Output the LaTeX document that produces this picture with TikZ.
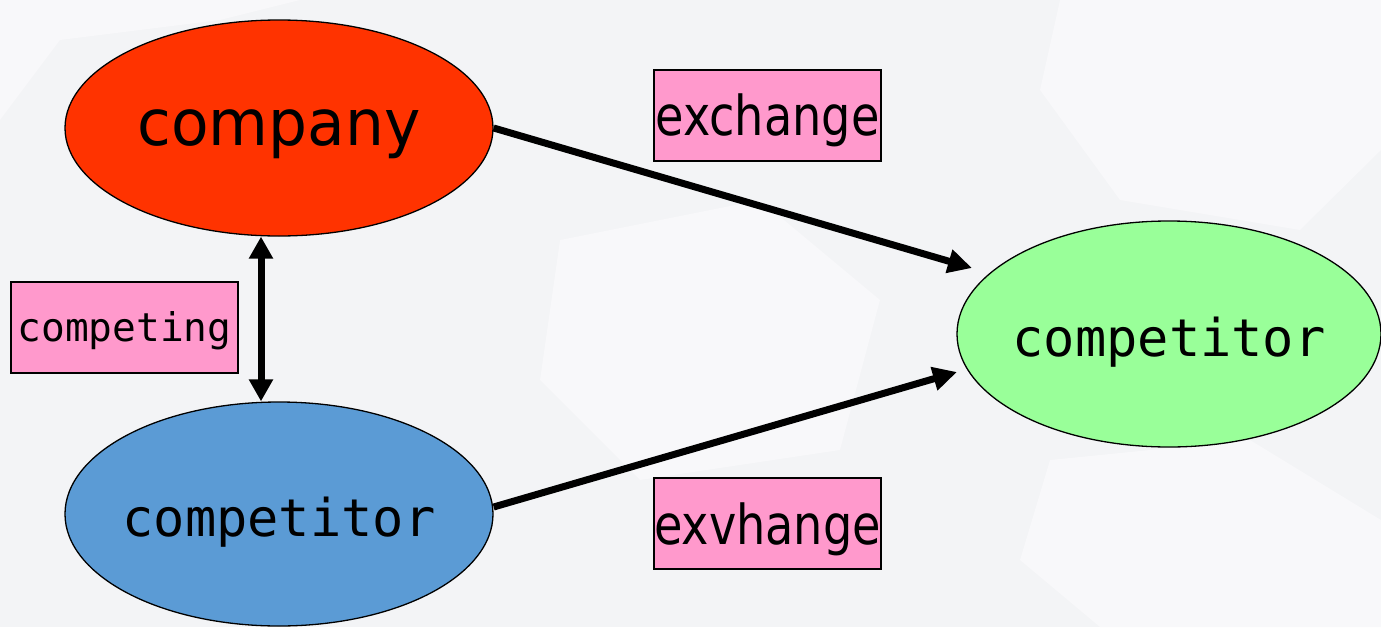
\documentclass[tikz,border=0pt]{standalone}
\usepackage{fontspec}
\usetikzlibrary{arrows.meta,shapes.geometric}
\newfontfamily\titlesans[FakeStretch=0.96]{DejaVu Sans}
\newfontfamily\tagsans[FakeStretch=0.84]{DejaVu Sans}
\newfontfamily\monolabel{DejaVu Sans Mono}
\definecolor{bgpaper}{RGB}{243,244,246}
\definecolor{bghex}{RGB}{248,248,250}
\definecolor{companyred}{HTML}{FF3300}
\definecolor{rivalblue}{HTML}{5B9BD5}
\definecolor{rivalgreen}{HTML}{99FF99}
\definecolor{tagpink}{HTML}{FF99CC}
\tikzset{
  blob/.style={ellipse, draw=black, line width=1.3pt, inner sep=0pt},
  tagbox/.style={rectangle, draw=black, line width=1.3pt, fill=tagpink,
    minimum width=227pt, minimum height=91pt, inner sep=0pt},
  conn/.style={line width=7pt, -{Triangle[length=24pt,width=23pt]}},
  dblconn/.style={line width=7pt, {Triangle[length=22pt,width=23pt]}-{Triangle[length=22pt,width=23pt]}},
  hexbg/.style={fill=bghex, draw=none}
}
\begin{document}
\begin{tikzpicture}[x=1pt,y=-1pt]
  % page and background pattern
  \useasboundingbox (0,0) rectangle (1381,627);
  \fill[bgpaper] (0,0) rectangle (1381,627);
  \fill[hexbg] (1060,0) -- (1381,0) -- (1381,150) -- (1300,230) -- (1120,200) -- (1040,90) -- cycle;
  \fill[hexbg] (560,240) -- (760,200) -- (880,300) -- (840,450) -- (640,480) -- (540,380) -- cycle;
  \fill[hexbg] (0,0) -- (300,0) -- (220,20) -- (60,40) -- (0,120) -- cycle;
  \fill[hexbg] (1050,460) -- (1250,440) -- (1381,520) -- (1381,627) -- (1100,627) -- (1020,560) -- cycle;

  % parties
  \node[blob, fill=companyred, minimum width=428pt, minimum height=216pt,
    label={[font=\fontsize{64}{64}\selectfont\titlesans, yshift=-6pt]center:company}] (company) at (279,128) {};
  \node[blob, fill=rivalblue, minimum width=428pt, minimum height=224pt,
    label={[font=\fontsize{52}{52}\selectfont\monolabel, yshift=-8pt]center:competitor}] (rivalA) at (279,514) {};
  \node[blob, fill=rivalgreen, minimum width=424pt, minimum height=226pt,
    label={[font=\fontsize{52}{52}\selectfont\monolabel, yshift=-8pt]center:competitor}] (rivalB) at (1169,334) {};

  % relation tags
  \node[tagbox, label={[font=\fontsize{55}{55}\selectfont\tagsans, yshift=-5pt]center:exchange}] (tagTop) at (767.5,115.5) {};
  \node[tagbox, label={[font=\fontsize{39.5}{40}\selectfont\monolabel, yshift=-3pt]center:competing}] (tagLeft) at (124.5,327.5) {};
  \node[tagbox, label={[font=\fontsize{55}{55}\selectfont\tagsans, yshift=-6pt]center:exvhange}] (tagBottom) at (767.5,523.5) {};

  % connectors
  \coordinate (tipTop) at (972,268);
  \coordinate (tipBottom) at (957,372);
  \draw[conn] (company.east) -- (tipTop);
  \draw[conn] ([yshift=7pt]rivalA.east) -- (tipBottom);
  \draw[dblconn] ([xshift=-18pt]company.south) -- ([xshift=-18pt]rivalA.north);
\end{tikzpicture}
\end{document}
